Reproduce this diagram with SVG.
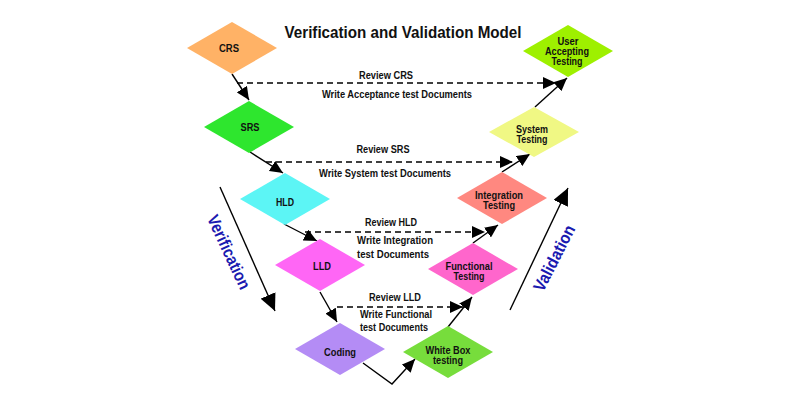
<svg xmlns="http://www.w3.org/2000/svg" width="800" height="400" viewBox="0 0 800 400">
<defs>
<style>
.t{font-family:"Liberation Sans",Arial,sans-serif;font-size:11.5px;font-weight:bold;fill:#111;text-anchor:middle}
.m{font-family:"Liberation Sans",Arial,sans-serif;font-size:10.5px;font-weight:bold;fill:#111;text-anchor:middle}
.title{font-family:"Liberation Sans",Arial,sans-serif;font-size:16px;font-weight:bold;fill:#111;text-anchor:middle}
.vv{font-family:"Liberation Sans",Arial,sans-serif;font-size:17px;font-weight:bold;fill:#1a1ab0;text-anchor:middle}
.ln{stroke:#000;stroke-width:1.4;fill:none;marker-end:url(#ah)}
.dl{stroke:#000;stroke-width:1.4;fill:none;stroke-dasharray:6,4;marker-end:url(#ah)}
.big{stroke:#000;stroke-width:1.4;fill:none;marker-end:url(#ahb)}
</style>
<marker id="ah" markerUnits="userSpaceOnUse" markerWidth="14" markerHeight="12" refX="13" refY="6" orient="auto"><path d="M0,0 L13,6 L0,12 z" fill="#000"/></marker>
<marker id="ahb" markerUnits="userSpaceOnUse" markerWidth="18" markerHeight="16" refX="17" refY="8" orient="auto"><path d="M0,0 L17,8 L0,16 z" fill="#000"/></marker>
</defs>
<rect width="800" height="400" fill="#fff"/>
<text class="title" x="403" y="38" textLength="237" lengthAdjust="spacingAndGlyphs">Verification and Validation Model</text>

<g id="connectors">
<line class="ln" x1="232" y1="74" x2="249" y2="100"/>
<line class="ln" x1="250" y1="152" x2="283" y2="173"/>
<line class="ln" x1="284" y1="224" x2="317" y2="241"/>
<line class="ln" x1="320" y1="292" x2="337" y2="322"/>
<polyline class="ln" points="363,363 392,384 415,359"/>
<line class="ln" x1="448" y1="327" x2="472" y2="297"/>
<line class="ln" x1="473" y1="243" x2="498" y2="225"/>
<line class="ln" x1="502" y1="172" x2="530" y2="154"/>
<line class="ln" x1="535" y1="107" x2="567" y2="78"/>
<line class="dl" x1="237" y1="83" x2="556" y2="83"/>
<line class="dl" x1="266" y1="162" x2="513" y2="162"/>
<line class="dl" x1="305" y1="232" x2="485" y2="232"/>
<line class="dl" x1="337" y1="307" x2="463" y2="307"/>
<line class="big" x1="220" y1="187" x2="275" y2="311"/>
<line class="big" x1="510" y1="310" x2="568" y2="188"/>
<text class="t" x="386" y="79" textLength="54" lengthAdjust="spacingAndGlyphs">Review CRS</text>
<text class="t" x="397" y="98" textLength="150" lengthAdjust="spacingAndGlyphs">Write Acceptance test Documents</text>
<text class="t" x="383" y="153" textLength="53" lengthAdjust="spacingAndGlyphs">Review SRS</text>
<text class="t" x="385" y="177" textLength="132" lengthAdjust="spacingAndGlyphs">Write System test Documents</text>
<text class="t" x="391" y="226" textLength="52" lengthAdjust="spacingAndGlyphs">Review HLD</text>
<text class="t" x="395" y="244" textLength="76" lengthAdjust="spacingAndGlyphs">Write Integration</text>
<text class="t" x="393" y="258" textLength="72" lengthAdjust="spacingAndGlyphs">test Documents</text>
<text class="t" x="395" y="301" textLength="52" lengthAdjust="spacingAndGlyphs">Review LLD</text>
<text class="t" x="396" y="318" textLength="72" lengthAdjust="spacingAndGlyphs">Write Functional</text>
<text class="t" x="394" y="331" textLength="68" lengthAdjust="spacingAndGlyphs">test Documents</text>
<text class="vv" transform="translate(229,252) rotate(65)" x="0" y="6" textLength="80" lengthAdjust="spacingAndGlyphs">Verification</text>
<text class="vv" transform="translate(554,258) rotate(-63)" x="0" y="6" textLength="72" lengthAdjust="spacingAndGlyphs">Validation</text>
</g>

<g id="crs"><polygon points="187,48 232,22 277,48 232,74" fill="#FFB266"/><text class="t" x="229" y="52" textLength="20" lengthAdjust="spacingAndGlyphs">CRS</text></g>
<g id="srs"><polygon points="204,127 249,101 294,127 249,153" fill="#2EE62E"/><text class="t" x="250" y="131" textLength="19" lengthAdjust="spacingAndGlyphs">SRS</text></g>
<g id="hld"><polygon points="240,199 285,173 330,199 285,225" fill="#5CF5F5"/><text class="t" x="285" y="206" textLength="18" lengthAdjust="spacingAndGlyphs">HLD</text></g>
<g id="lld"><polygon points="275,265 320,239 365,265 320,291" fill="#FF66F5"/><text class="t" x="322" y="270" textLength="18" lengthAdjust="spacingAndGlyphs">LLD</text></g>
<g id="coding"><polygon points="295,349 340,323 385,349 340,375" fill="#B48CF5"/><text class="t" x="340" y="356" textLength="32" lengthAdjust="spacingAndGlyphs">Coding</text></g>
<g id="whitebox"><polygon points="403,352 448,326 493,352 448,378" fill="#77DD3C"/><text class="m" x="448" y="354" textLength="45" lengthAdjust="spacingAndGlyphs">White Box</text><text class="m" x="448" y="364" textLength="30" lengthAdjust="spacingAndGlyphs">testing</text></g>
<g id="functional"><polygon points="428,269 473,243 518,269 473,295" fill="#FF66CC"/><text class="m" x="469" y="270" textLength="47" lengthAdjust="spacingAndGlyphs">Functional</text><text class="m" x="469" y="280" textLength="31" lengthAdjust="spacingAndGlyphs">Testing</text></g>
<g id="integration"><polygon points="457,198 502,172 547,198 502,224" fill="#FF8880"/><text class="m" x="499" y="199" textLength="48" lengthAdjust="spacingAndGlyphs">Integration</text><text class="m" x="499" y="209" textLength="32" lengthAdjust="spacingAndGlyphs">Testing</text></g>
<g id="system"><polygon points="489,132 534,107 579,132 534,157" fill="#F0F884"/><text class="m" x="532" y="133" textLength="32" lengthAdjust="spacingAndGlyphs">System</text><text class="m" x="532" y="143" textLength="31" lengthAdjust="spacingAndGlyphs">Testing</text></g>
<g id="uat"><polygon points="523,51 568,25 613,51 568,77" fill="#9EF000"/><text class="m" x="568" y="45" textLength="21" lengthAdjust="spacingAndGlyphs">User</text><text class="m" x="567" y="55" textLength="44" lengthAdjust="spacingAndGlyphs">Accepting</text><text class="m" x="567" y="65" textLength="31" lengthAdjust="spacingAndGlyphs">Testing</text></g>
</svg>
